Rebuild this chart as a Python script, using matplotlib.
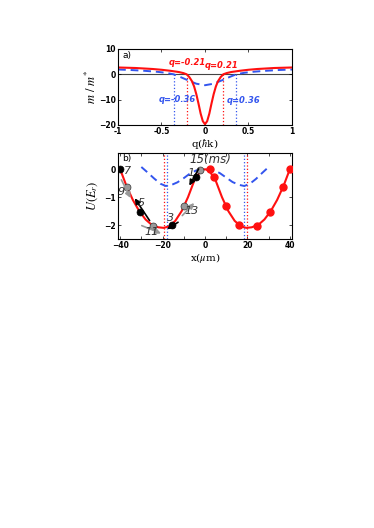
import numpy as np
import matplotlib
matplotlib.use('Agg')
import matplotlib.pyplot as plt

plt.rcParams['mathtext.fontset'] = 'stix'

# panel a: effective mass ratio vs quasi-momentum
q_red = [-1.0, -0.9, -0.8, -0.7, -0.6, -0.5, -0.4, -0.3, -0.25, -0.21, -0.18, -0.15, -0.125, -0.1,
         -0.075, -0.05, -0.025, 0.0, 0.025, 0.05, 0.075, 0.1, 0.125, 0.15, 0.18, 0.21, 0.25, 0.3,
         0.4, 0.5, 0.6, 0.7, 0.8, 0.9, 1.0]
m_red = [2.7, 2.6, 2.5, 2.3, 2.1, 1.8, 1.4, 0.9, 0.5, 0.0, -1.1, -2.7, -4.8, -7.8,
         -11.5, -15.5, -18.5, -19.7, -18.5, -15.5, -11.5, -7.8, -4.8, -2.7, -1.1, 0.0, 0.5, 0.9,
         1.4, 1.8, 2.1, 2.3, 2.5, 2.6, 2.7]
q_blue = [-1.0, -0.85, -0.7, -0.55, -0.45, -0.36, -0.3, -0.2, -0.1, 0.0,
          0.1, 0.2, 0.3, 0.36, 0.45, 0.55, 0.7, 0.85, 1.0]
m_blue = [1.9, 1.7, 1.4, 1.0, 0.6, 0.0, -0.8, -2.3, -3.7, -4.3,
          -3.7, -2.3, -0.8, 0.0, 0.6, 1.0, 1.4, 1.7, 1.9]
q_zero_red = [-0.21, 0.21]
q_zero_blue = [-0.36, 0.36]

# panel b: lattice potential and atom positions
x_red = [-40, -37, -34, -31, -28, -25, -22, -19.5, -17, -14, -11, -8, -5, -2, 0,
         2, 5, 8, 11, 14, 17, 19.5, 22, 25, 28, 31, 34, 37, 40]
u_red = [0.0, -0.6, -1.1, -1.5, -1.8, -2.0, -2.08, -2.1, -2.05, -1.85, -1.5, -1.0, -0.4, -0.05, 0.0,
         -0.05, -0.4, -1.0, -1.5, -1.85, -2.05, -2.1, -2.08, -2.0, -1.8, -1.5, -1.1, -0.6, 0.0]
x_blue = [-30, -27, -24, -21, -18.5, -16, -13, -10, -7, -4, 0,
          4, 7, 10, 13, 16, 18.5, 21, 24, 27, 30]
u_blue = [0.08, -0.12, -0.33, -0.52, -0.6, -0.57, -0.47, -0.32, -0.15, -0.04, 0.0,
          -0.03, -0.14, -0.3, -0.46, -0.56, -0.6, -0.53, -0.35, -0.13, 0.08]
x_min_red = [-19.5, 19.8]
x_min_blue = [-18.0, 18.5]

t_atom = ['1', '3', '5', '7', '9', '11', '13', '15(ms)']
x_atom = [-4.2, -15.7, -30.6, -40.0, -36.9, -24.3, -9.7, -2.2]
u_atom = [-0.29, -2.0, -1.54, 0.0, -0.63, -2.02, -1.31, -0.02]
x_ref = [2.2, 4.4, 9.7, 15.9, 24.6, 30.7, 37.0, 40.0]
u_ref = [0.0, -0.29, -1.31, -2.0, -2.02, -1.54, -0.63, 0.0]

fig = plt.figure(figsize=(3.74, 5.28), dpi=100)
ax1 = fig.add_axes([0.3155, 0.7633, 0.4652, 0.1439])
ax2 = fig.add_axes([0.3155, 0.5473, 0.4652, 0.1629])

red = '#ff1010'
blue = '#3355ee'

# ---- panel a
ax1.axhline(0, color='#444444', lw=0.8, zorder=1)
for q in q_zero_red:
    ax1.plot([q, q], [-20, 0], ls=':', color=red, lw=0.9)
for q in q_zero_blue:
    ax1.plot([q, q], [-20, 0], ls=':', color=blue, lw=0.9)
ax1.plot(q_blue, m_blue, '--', color=blue, lw=1.4, dashes=(4, 2.5))
ax1.plot(q_red, m_red, '-', color=red, lw=1.5)
ax1.set_xlim(-1, 1)
ax1.set_ylim(-20, 10)
ax1.set_xticks([-1, -0.5, 0, 0.5, 1])
ax1.set_xticklabels(['-1', '-0.5', '0', '0.5', '1'])
ax1.set_yticks([-20, -10, 0, 10])
ax1.text(-0.95, 7.6, 'a)', fontsize=6.5, va='center')
kw = dict(fontsize=6, fontweight='bold', fontstyle='italic', va='center', ha='center')
ax1.text(-0.2, 4.5, 'q=-0.21', color=red, **kw)
ax1.text(0.185, 3.3, 'q=0.21', color=red, **kw)
ax1.text(-0.315, -10, 'q=-0.36', color=blue, **kw)
ax1.text(0.44, -10.5, 'q=0.36', color=blue, **kw)
ax1.set_ylabel(r'$m\ /\ m^{*}$', fontsize=9, labelpad=0)
ax1.set_xlabel(r'q($\hbar$k)', fontsize=7.5, labelpad=1, family='serif')

# ---- panel b
for x in x_min_red:
    ax2.axvline(x, ls=':', color=red, lw=0.9)
for x in x_min_blue:
    ax2.axvline(x, ls=':', color=blue, lw=0.9)
ax2.plot(x_blue, u_blue, '--', color=blue, lw=1.4, dashes=(4, 2.5))
ax2.plot(x_red, u_red, '-', color=red, lw=1.5)
ax2.plot(x_ref, u_ref, 'o', color=red, ms=5, zorder=4)

# arrows (tail, head offsets relative to each atom)
arr_tail = [(1.2, 0.3), (3.0, 0.1), (4.5, -0.3), None, (-2.5, 0.25), (-5.5, 0.0), (-1.0, -0.35), None]
arr_head = [(-3.2, -0.3), (-2.2, -0.15), (-2.5, 0.5), None, (1.8, -0.4), (3.6, -0.28), (4.6, 0.1), None]
for i in range(len(x_atom)):
    dark = i < 4
    col = 'black' if dark else '#999999'
    if arr_tail[i] is not None:
        ax2.annotate('', xy=(x_atom[i] + arr_head[i][0], u_atom[i] + arr_head[i][1]),
                     xytext=(x_atom[i] + arr_tail[i][0], u_atom[i] + arr_tail[i][1]),
                     arrowprops=dict(arrowstyle='-|>', color=col, lw=1.2, mutation_scale=8,
                                     shrinkA=0, shrinkB=0),
                     zorder=7)
    ax2.plot(x_atom[i], u_atom[i], 'o', color=col, mec='#333333' if not dark else 'black',
             mew=0.5, ms=5, zorder=6)

lab_pos = [(-6.6, -0.12), (-16.0, -1.73), (-29.8, -1.21), (-36.6, -0.05),
           (-39.6, -0.82), (-25.0, -2.25), (-6.4, -1.51), (2.4, 0.33)]
for i in range(len(t_atom)):
    ax2.text(lab_pos[i][0], lab_pos[i][1], t_atom[i], fontsize=8.5 if i == 7 else 8,
             fontstyle='italic', color='#333333', ha='center', va='center', zorder=8)

ax2.set_xlim(-41, 41)
ax2.set_ylim(-2.5, 0.58)
ax2.set_xticks([-40, -20, 0, 20, 40])
ax2.set_xticks([-30, -10, 10, 30], minor=True)
ax2.set_yticks([-2, -1, 0])
ax2.text(-39, 0.38, 'b)', fontsize=6.5, va='center')
ax2.set_ylabel(r'$U(E_r)$', fontsize=9, labelpad=3)
ax2.set_xlabel(r'x($\mu$m)', fontsize=7.5, labelpad=1, family='serif')

for ax in (ax1, ax2):
    ax.tick_params(which='both', direction='in', length=2, width=0.5, labelsize=5.5, pad=1.5,
                   top=True, right=True)
    for lab in ax.get_xticklabels() + ax.get_yticklabels():
        lab.set_fontweight('bold')
    for s in ax.spines.values():
        s.set_linewidth(0.8)

fig.savefig('out.png', dpi=100)
